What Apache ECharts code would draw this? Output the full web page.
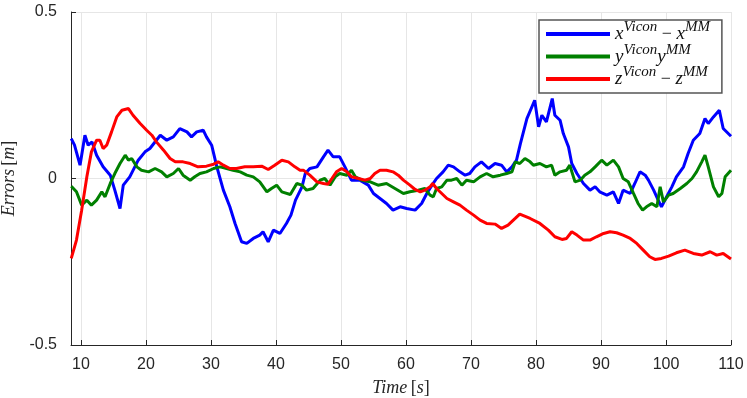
<!DOCTYPE html>
<html>
<head>
<meta charset="utf-8">
<script src="https://cdn.jsdelivr.net/npm/echarts@6/dist/echarts.min.js"></script>
<style>html,body{margin:0;padding:0;background:#fff;}#c{width:747px;height:398px;}</style>
</head>
<body>
<div id="c"></div>
<script>
// ---- data ----
const xTicks = [10, 20, 30, 40, 50, 60, 70, 80, 90, 100, 110];
const yTicks = [-0.5, 0, 0.5];
const seriesNames = ['x', 'y', 'z'];

const tX = [8.5,9.0,9.85,10.6,11.1,11.7,12.4,13.4,14.5,15.2,16.0,16.5,17.5,18.8,19.85,20.6,22.2,23.2,24.2,25.2,26.3,27.0,27.8,28.8,29.3,30.1,30.9,31.9,32.9,33.7,34.7,35.5,36.5,37.5,38.0,38.8,39.6,40.6,41.6,42.3,43.0,44.0,44.5,45.2,46.3,47.3,48.0,48.8,49.8,50.6,51.6,52.9,54.2,55.0,56.0,57.0,58.0,59.1,60.1,61.4,62.4,63.2,64.0,64.7,65.7,66.5,67.3,68.3,69.1,69.8,70.6,71.6,72.7,73.7,74.7,75.5,76.3,77.0,77.6,78.6,79.8,80.4,80.9,81.6,82.5,82.9,83.7,84.2,85.0,85.5,86.3,87.3,88.3,89.1,89.8,90.9,91.9,92.7,93.4,94.5,95.2,96.0,96.8,97.3,98.1,98.8,99.3,100.1,100.9,101.6,102.7,103.4,104.2,105.2,106.0,106.5,107.3,108.2,108.8,110.0];
const vX = [0.12,0.10,0.04,0.13,0.10,0.11,0.07,0.035,0.01,-0.035,-0.09,-0.02,0.005,0.055,0.08,0.09,0.13,0.115,0.125,0.15,0.14,0.125,0.14,0.145,0.125,0.10,0.035,-0.035,-0.085,-0.135,-0.19,-0.195,-0.18,-0.17,-0.16,-0.19,-0.155,-0.165,-0.135,-0.11,-0.065,-0.025,0.015,0.03,0.035,0.065,0.085,0.065,0.065,0.035,-0.005,-0.005,-0.02,-0.045,-0.06,-0.075,-0.095,-0.085,-0.09,-0.095,-0.075,-0.045,-0.02,0.0,0.02,0.04,0.035,0.02,0.01,0.015,0.035,0.05,0.03,0.045,0.04,0.02,0.035,0.055,0.105,0.18,0.235,0.155,0.19,0.17,0.24,0.19,0.175,0.135,0.095,0.045,0.015,-0.015,-0.035,-0.025,-0.04,-0.05,-0.04,-0.075,-0.035,-0.045,-0.015,0.02,0.01,-0.005,-0.035,-0.065,-0.085,-0.055,-0.025,0.005,0.035,0.075,0.115,0.135,0.18,0.165,0.185,0.205,0.15,0.127];

const tY = [8.5,9.3,10.1,10.9,11.6,12.4,13.2,13.7,14.5,15.2,16.0,16.8,17.3,17.8,18.6,19.3,20.4,21.4,22.4,23.2,24.2,25.0,25.7,26.8,27.5,28.3,29.3,30.4,31.4,32.4,33.4,34.5,35.5,36.5,37.5,38.6,39.3,40.1,40.9,42.2,43.2,44.0,44.7,45.7,46.8,47.5,48.3,49.1,49.8,50.9,51.6,52.2,53.2,54.5,55.7,57.0,58.3,59.6,60.6,61.9,62.9,63.7,64.2,64.7,65.5,66.3,67.0,67.8,68.6,69.3,70.4,71.4,72.4,73.4,74.5,75.5,76.3,76.8,77.5,78.3,79.1,79.6,80.6,81.6,82.4,82.9,83.7,84.7,85.2,86.0,86.8,87.5,88.3,89.1,90.1,90.9,91.9,92.7,93.4,94.2,95.0,95.7,96.4,97.0,97.8,98.6,99.1,99.6,100.4,101.1,102.2,103.2,104.0,104.7,105.5,106.0,106.5,107.3,108.1,108.6,109.1,110.0];
const vY = [-0.023,-0.04,-0.08,-0.065,-0.08,-0.065,-0.04,-0.055,-0.015,0.015,0.045,0.07,0.055,0.06,0.035,0.025,0.02,0.03,0.02,0.005,0.015,0.03,0.01,-0.005,0.005,0.015,0.02,0.03,0.035,0.03,0.025,0.02,0.01,0.005,-0.01,-0.04,-0.03,-0.02,-0.04,-0.048,-0.015,-0.02,-0.035,-0.03,-0.005,0.0,-0.02,0.005,0.015,0.01,0.025,0.005,-0.005,-0.01,-0.02,-0.015,-0.03,-0.045,-0.04,-0.035,-0.03,-0.05,-0.055,-0.03,-0.025,-0.005,-0.005,0.0,-0.02,-0.005,-0.01,0.005,0.015,0.005,0.01,0.015,0.02,0.05,0.045,0.06,0.05,0.04,0.045,0.035,0.04,0.01,0.02,0.025,0.04,-0.01,-0.005,0.01,0.02,0.035,0.055,0.04,0.055,0.035,0.0,-0.01,-0.045,-0.075,-0.095,-0.085,-0.075,-0.085,-0.025,-0.07,-0.05,-0.045,-0.03,-0.015,0.0,0.02,0.05,0.07,0.035,-0.025,-0.055,-0.045,0.005,0.025];

const tZ = [8.5,9.3,10.1,10.9,11.6,12.4,12.9,13.4,13.95,14.7,15.5,16.3,17.3,18.0,19.1,20.1,20.9,21.6,22.7,23.7,24.5,25.7,26.8,28.0,29.3,30.4,31.1,31.9,32.9,33.9,35.2,36.5,37.8,38.8,39.8,40.9,41.9,42.9,43.7,44.2,45.2,46.3,47.3,48.0,48.6,49.3,50.1,50.9,51.6,52.7,53.7,54.5,55.2,56.0,57.0,58.0,58.8,59.6,60.6,61.4,62.2,62.9,63.7,64.1,64.7,65.5,66.3,67.3,68.3,69.3,70.4,71.4,72.4,73.7,74.7,75.7,76.8,77.5,79.1,80.6,81.9,82.9,84.0,84.7,85.5,86.3,87.3,88.3,89.3,90.4,91.4,92.4,93.4,94.5,95.5,96.5,97.5,98.3,99.3,100.4,101.6,102.9,104.2,105.5,106.8,107.8,108.8,110.0];
const vZ = [-0.24,-0.185,-0.095,0.005,0.08,0.115,0.115,0.09,0.10,0.14,0.185,0.205,0.21,0.19,0.165,0.145,0.13,0.11,0.085,0.06,0.05,0.05,0.045,0.035,0.037,0.043,0.05,0.04,0.03,0.03,0.035,0.035,0.037,0.027,0.04,0.055,0.05,0.035,0.025,0.025,0.01,-0.01,-0.015,-0.017,0.0,0.02,0.03,0.02,0.005,0.0,-0.005,0.0,0.015,0.025,0.025,0.02,0.01,-0.005,-0.02,-0.033,-0.04,-0.035,-0.025,-0.015,-0.03,-0.045,-0.06,-0.07,-0.08,-0.095,-0.11,-0.125,-0.135,-0.137,-0.15,-0.14,-0.12,-0.107,-0.12,-0.135,-0.155,-0.175,-0.183,-0.18,-0.16,-0.17,-0.185,-0.185,-0.175,-0.165,-0.16,-0.163,-0.17,-0.18,-0.195,-0.215,-0.235,-0.243,-0.24,-0.233,-0.223,-0.215,-0.225,-0.23,-0.22,-0.23,-0.225,-0.242];

const colors = ['#0000ff', '#008000', '#ff0000'];

function pairs(t, v) { return t.map((x, i) => [x, v[i]]); }

const mathFont = "'Liberation Serif', 'DejaVu Serif', serif";
const sansFont = "'Liberation Sans', Arial, sans-serif";

const legendText = {
  x: '{m|x}{s|Vicon}{o| − }{m|x}{s|MM}',
  y: '{m|y}{s|Vicon}{m|y}{s|MM}',
  z: '{m|z}{s|Vicon}{o| − }{m|z}{s|MM}'
};

const chart = echarts.init(document.getElementById('c'), null, {renderer: 'canvas'});
chart.setOption({
  animation: false,
  backgroundColor: '#ffffff',
  color: colors,
  grid: {left: 71, right: 16, top: 12, bottom: 53, containLabel: false, outerBoundsMode: 'none'},
  legend: {
    orient: 'vertical',
    left: 539,
    top: 20,
    padding: [0, 12, 0, 7],
    itemGap: -5.5,
    itemWidth: 64,
    itemHeight: 4,
    icon: 'rect',
    borderColor: '#555555',
    borderWidth: 1.5,
    borderRadius: 0,
    backgroundColor: '#ffffff',
    data: seriesNames,
    formatter: name => legendText[name],
    textStyle: {
      color: '#111',
      lineHeight: 28,
      rich: {
        m: {fontFamily: mathFont, fontStyle: 'italic', fontSize: 19, color: '#111', verticalAlign: 'middle'},
        o: {fontFamily: mathFont, fontSize: 18, color: '#111', verticalAlign: 'middle'},
        s: {fontFamily: mathFont, fontStyle: 'italic', fontSize: 15, color: '#111', verticalAlign: 'top'}
      }
    }
  },
  xAxis: {
    type: 'value',
    min: 8.46,
    max: 110,
    minInterval: 10,
    maxInterval: 10,
    splitNumber: 10,
    name: '{i|Time} {r|[}{i|s}{r|]}',
    nameLocation: 'middle',
    nameGap: 34,
    nameTextStyle: {
      rich: {
        i: {fontFamily: mathFont, fontStyle: 'italic', fontSize: 18, color: '#262626'},
        r: {fontFamily: mathFont, fontSize: 18, color: '#262626'}
      }
    },
    axisLine: {show: true, onZero: false, lineStyle: {color: '#262626', width: 1}},
    axisTick: {show: true, inside: true, length: 5, lineStyle: {color: '#262626'}},
    axisLabel: {
      margin: 12,
      fontFamily: sansFont,
      fontSize: 16,
      color: '#262626',
      formatter: v => (xTicks.indexOf(Math.round(v * 100) / 100) >= 0 ? String(v) : '')
    },
    splitLine: {show: true, lineStyle: {color: '#e6e6e6', width: 1}}
  },
  yAxis: {
    type: 'value',
    min: yTicks[0],
    max: yTicks[yTicks.length - 1],
    interval: 0.5,
    name: '{i|Errors} {r|[}{i|m}{r|]}',
    nameLocation: 'middle',
    nameGap: 46,
    nameTextStyle: {
      rich: {
        i: {fontFamily: mathFont, fontStyle: 'italic', fontSize: 18, color: '#262626'},
        r: {fontFamily: mathFont, fontSize: 18, color: '#262626'}
      }
    },
    axisLine: {show: true, onZero: false, lineStyle: {color: '#262626', width: 1}},
    axisTick: {show: true, inside: true, length: 5, lineStyle: {color: '#262626'}},
    axisLabel: {margin: 14, fontFamily: sansFont, fontSize: 16, color: '#262626'},
    splitLine: {show: true, lineStyle: {color: '#e6e6e6', width: 1}}
  },
  series: [
    {name: 'x', type: 'line', data: pairs(tX, vX), showSymbol: false, lineStyle: {width: 3, color: colors[0]}, itemStyle: {color: colors[0]}},
    {name: 'y', type: 'line', data: pairs(tY, vY), showSymbol: false, lineStyle: {width: 3, color: colors[1]}, itemStyle: {color: colors[1]}},
    {name: 'z', type: 'line', data: pairs(tZ, vZ), showSymbol: false, lineStyle: {width: 3, color: colors[2]}, itemStyle: {color: colors[2]}}
  ]
});
</script>
</body>
</html>
